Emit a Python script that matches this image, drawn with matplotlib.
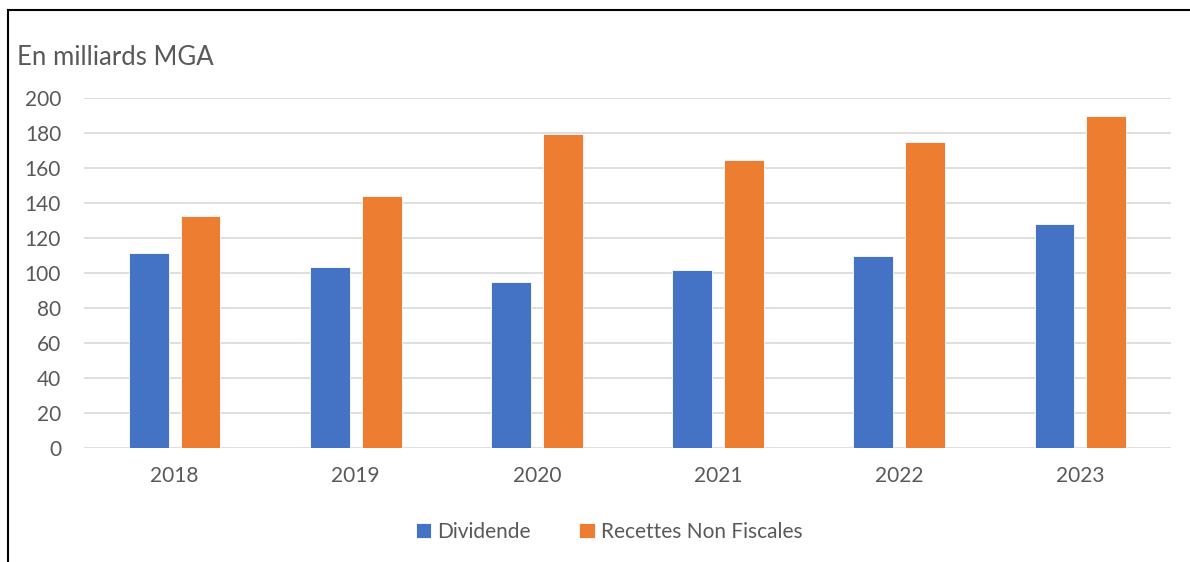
import numpy as np
import matplotlib.pyplot as plt
from matplotlib.lines import Line2D

plt.rcParams['font.family'] = ['Lato', 'DejaVu Sans']

years = ['2018', '2019', '2020', '2021', '2022', '2023']
dividende = [111.6, 103.4, 94.7, 101.9, 109.7, 128.0]
recettes_non_fiscales = [132.4, 144.0, 179.6, 164.8, 174.7, 189.7]

BLUE = '#4472C4'
ORANGE = '#ED7D31'
GREY = '#595959'

fig = plt.figure(figsize=(11.9, 5.62), dpi=100)
ax = fig.add_axes([84 / 1190, 114 / 562, 1087 / 1190, 350 / 562])

x = np.arange(len(years))
width = 0.22
offset = 0.143
ax.bar(x - offset, dividende, width, color=BLUE, label='Dividende',
       edgecolor='white', linewidth=0.6, zorder=3)
ax.bar(x + offset, recettes_non_fiscales, width, color=ORANGE,
       label='Recettes Non Fiscales', edgecolor='white', linewidth=0.6, zorder=3)

ax.set_xlim(-0.5, len(years) - 0.5)
ax.set_ylim(0, 200)
ax.set_yticks(range(0, 201, 20))
ax.set_xticks(x)
ax.set_xticklabels(years)
ax.yaxis.grid(True, color='#d9d9d9', linewidth=1.2, zorder=0)
ax.tick_params(axis='both', length=0, labelsize=15, colors=GREY)
ax.tick_params(axis='x', pad=13)
ax.tick_params(axis='y', pad=16.5)
for s in ax.spines.values():
    s.set_visible(False)

fig.text(17 / 1190, 1 - 65 / 562, 'En milliards MGA', fontsize=18.5,
         color=GREY, va='baseline', ha='left')

handles, labels = ax.get_legend_handles_labels()
fig.legend(handles, labels, loc='center', bbox_to_anchor=(609 / 1190, 1 - 532 / 562),
           ncol=2, frameon=False, fontsize=15, labelcolor=GREY,
           handlelength=0.75, handleheight=0.75, handletextpad=0.3,
           columnspacing=2.3)

# outer frame: left and top edges
top = 1 - 10 / 562
left = 8 / 1190
fig.lines.append(Line2D([left, left], [0, top], transform=fig.transFigure,
                        color='black', linewidth=1.5))
fig.lines.append(Line2D([left, 1], [top, top], transform=fig.transFigure,
                        color='black', linewidth=1.5))

fig.savefig('out.png', dpi=100)
